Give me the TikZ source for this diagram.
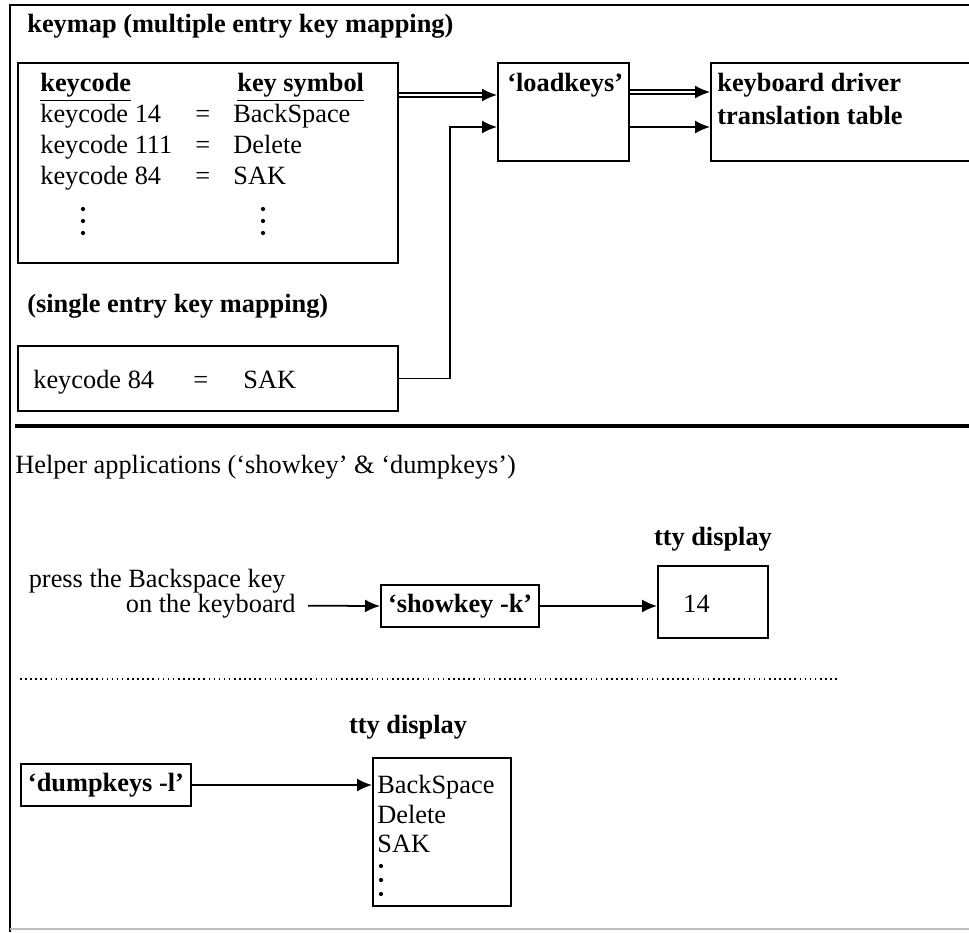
\documentclass[tikz,border=0pt]{standalone}
\usepackage{fontspec}
\setmainfont{Liberation Serif}
\usetikzlibrary{arrows.meta,calc}

\begin{document}
\begin{tikzpicture}[x=0.02cm,y=-0.02cm,
  font=\fontsize{15}{18}\selectfont,
  box/.style={draw,line width=1.1pt,inner sep=0pt,anchor=north west},
  tbox/.style={draw,line width=1.1pt,inner xsep=4pt,inner ysep=5pt,font=\fontsize{15}{18}\selectfont\bfseries},
  txt/.style={inner sep=0pt,anchor=base west},
  btxt/.style={txt,font=\fontsize{15}{18}\selectfont\bfseries},
  conn/.style={line width=1pt,-{Latex[length=3mm,width=2.6mm]}},
  dbl/.style={double,double distance=1.5pt,line width=0.8pt,-{Latex[length=3mm,width=2.6mm]}}]

\clip (0,0) rectangle (969,932);

%frame
\draw[line width=1.1pt] (10,932) -- (10,5) -- (975,5);
\draw[gray!50, line width=0.8pt] (10,929) -- (975,929);

%multiple entry keymap
\node[btxt] (title) at (27,33) {keymap (multiple entry key mapping)};
\node[box,minimum width=7.6cm,minimum height=4cm] (multi) at (17,62) {};
\node[btxt] (hcode) at (40,92) {\underline{keycode}};
\node[btxt] (hsym) at (237,92) {\underline{key symbol}};
\foreach \c/\s [count=\i] in {14/BackSpace,111/Delete,84/SAK}{
  \node[txt] (code\i) at (40,92+31*\i) {keycode \c};
  \node[txt] (eq\i) at (195,92+31*\i) {=};
  \node[txt] (sym\i) at (233,92+31*\i) {\s};
}
\foreach \y in {209,221,233}{
  \fill (83,\y) circle (1.2pt);
  \fill (263,\y) circle (1.2pt);
}

%loadkeys and driver
\node[box,minimum width=2.62cm,minimum height=1.96cm] (load) at (497,62) {};
\node[btxt] (loadtxt) at (507,92) {`loadkeys'};
\node[box,minimum width=5.4cm,minimum height=1.96cm] (drv) at (710,62) {};
\node[btxt] (drvtxt1) at (717,92) {keyboard driver};
\node[btxt] (drvtxt2) at (717,125) {translation table};

%single entry keymap
\node[btxt] (stitle) at (27,312) {(single entry key mapping)};
\node[box,minimum width=7.6cm,minimum height=1.3cm] (single) at (17,345) {};
\node[txt] (scode) at (33,388) {keycode 84};
\node[txt] (seq) at (193,388) {=};
\node[txt] (ssym) at (243,388) {SAK};

%connectors
\draw[dbl] ($(multi.north east)+(0,33)$) -- ($(load.north west)+(0,33)$);
\draw[conn] (single.east) -- ++(51,0) |- ($(load.north west)+(0,65)$);
\draw[dbl] ($(load.north east)+(0,30)$) -- ($(drv.north west)+(0,30)$);
\draw[conn] ($(load.north east)+(0,65)$) -- ($(drv.north west)+(0,65)$);

\draw[line width=2.4pt] (15,426) -- (975,426);

%helpers
\node[txt] (helper) at (15,473) {Helper applications (`showkey' \& `dumpkeys')};

\node[txt,anchor=base east] (press1) at (286,587) {press the Backspace key};
\node[txt,anchor=base east] (press2) at (296,612) {on the keyboard};
\node[tbox,anchor=west] (show) at (380,606) {`showkey -k'};
\node[box,minimum width=2.2cm,minimum height=1.44cm] (tty1) at (657,565) {};
\node[btxt,anchor=base] (tty1hd) at ($(tty1.north)+(0,-20)$) {tty display};
\node[txt] (tty1txt) at (683,612) {14};
\draw[conn] ($(press2.east)+(12,0)$) -- (show.west);
\draw[conn] (show.east) -- (show.east -| tty1.west);

\draw[dotted,line width=0.9pt] (20,679) -- (838,679);

\node[tbox,anchor=west] (dump) at (20,785) {`dumpkeys -l'};
\node[box,minimum width=2.76cm,minimum height=2.96cm] (tty2) at (372,757) {};
\node[btxt,anchor=base] (tty2hd) at (408,733) {tty display};
\node[txt] (bs) at (377,793) {BackSpace};
\node[txt] (del) at (377,823) {Delete};
\node[txt] (sak) at (377,852) {SAK};
\foreach \y in {866,880,894}{
  \fill (381,\y) circle (1.2pt);
}
\draw[conn] (dump.east) -- (dump.east -| tty2.west);

\end{tikzpicture}
\end{document}
